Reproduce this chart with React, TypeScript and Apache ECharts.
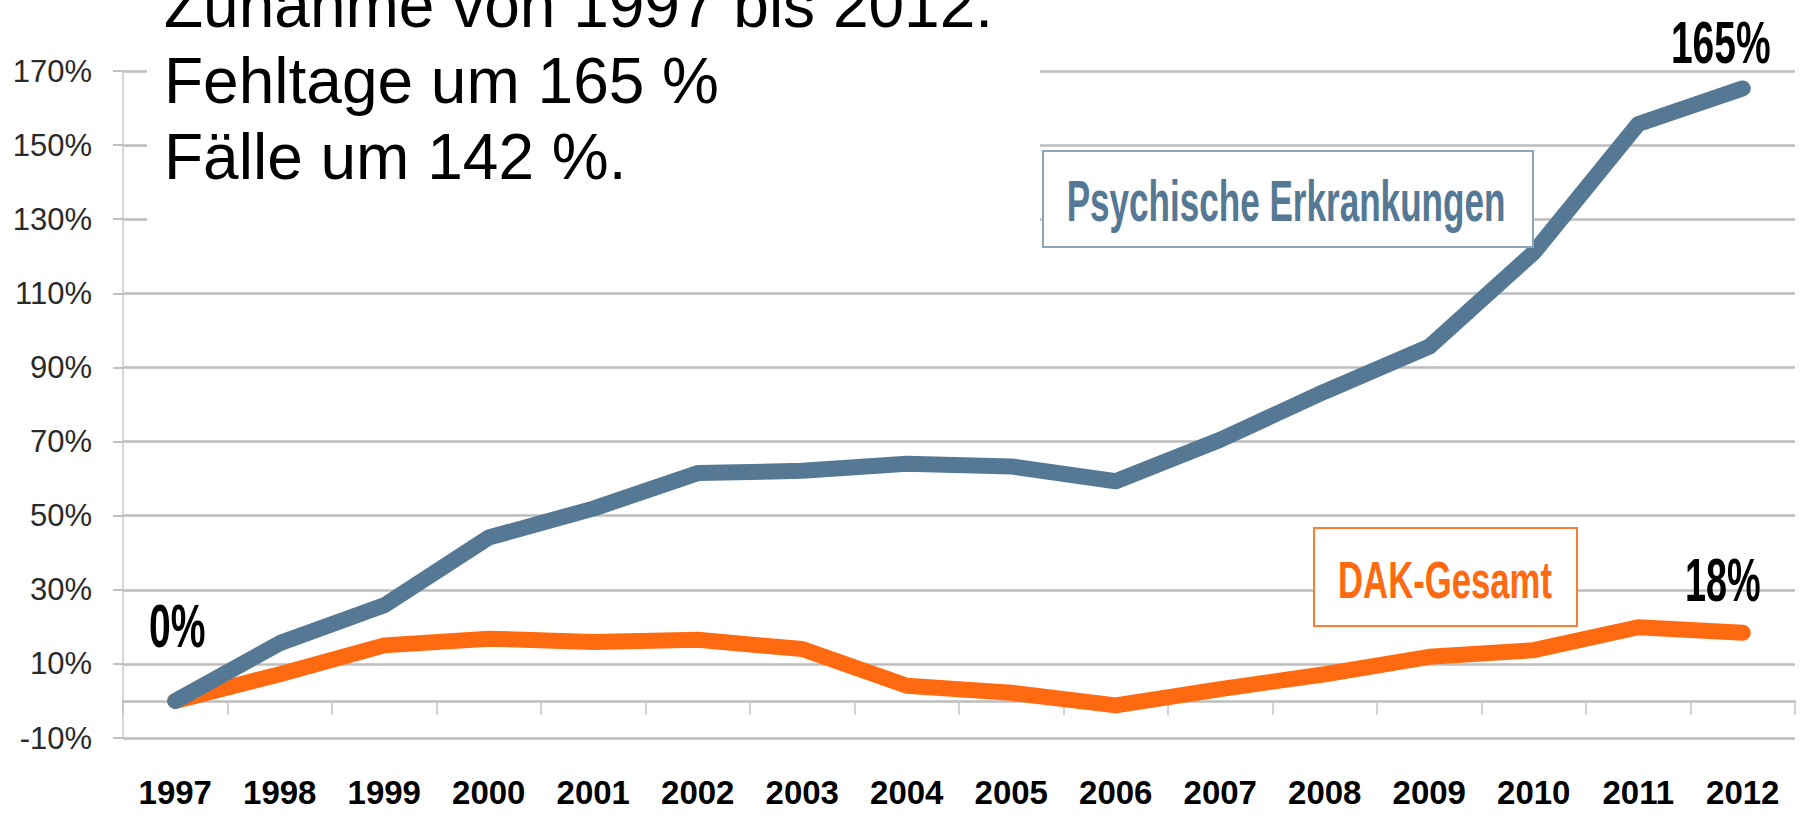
import React, { useEffect, useRef } from "react";
import * as echarts from "echarts";

const years = ["1997", "1998", "1999", "2000", "2001", "2002", "2003", "2004", "2005", "2006", "2007", "2008", "2009", "2010", "2011", "2012"];
const psychisch = [0, 15.6, 25.8, 44.1, 51.9, 61.5, 62.1, 64, 63.3, 59.3, 70.5, 83.5, 95.6, 121, 155.7, 165.3];
const dakGesamt = [0, 7.2, 15, 16.8, 15.9, 16.5, 14, 4.1, 2.2, -1.2, 3.2, 7.2, 11.9, 13.7, 19.9, 18.4];
const yMin = -10;
const yMax = 170;
const yInterval = 20;
const titleLines = ["Zunahme von 1997 bis 2012:", "Fehltage um 165 %", "Fälle um 142 %."];
const seriesNames = ["Psychische Erkrankungen", "DAK-Gesamt"];
const startLabel = "0%";
const endLabelPsych = "165%";
const endLabelDak = "18%";

const BLUE = "#557894";
const ORANGE = "#ff6a10";
const ARIAL = "'Liberation Sans', Arial, sans-serif";

export default function App() {
  const ref = useRef<HTMLDivElement>(null);
  useEffect(() => {
    document.body.style.margin = "0";
    const chart = echarts.init(ref.current!, null, { renderer: "svg" });
    const option: any = {
      animation: false,
      backgroundColor: "#ffffff",
      grid: { left: 123, right: 7, top: 71, bottom: 83, containLabel: false, outerBoundsMode: "none" },
      xAxis: {
        type: "category",
        data: years,
        boundaryGap: true,
        axisLine: { onZero: true, lineStyle: { color: "#bdbdbd", width: 2.5 } },
        axisTick: { show: true, length: 14, lineStyle: { color: "#c4c4c4", width: 1.5 } },
        axisLabel: {
          interval: 0,
          margin: 38,
          fontFamily: ARIAL,
          fontWeight: "bold",
          fontSize: 33,
          color: "#000",
        },
        splitLine: { show: false },
      },
      yAxis: {
        type: "value",
        min: yMin,
        max: yMax,
        interval: yInterval,
        axisLine: { show: true, lineStyle: { color: "#c8c8c8", width: 1.5 } },
        axisTick: { show: true, length: 10, lineStyle: { color: "#c0c0c0", width: 2 } },
        axisLabel: {
          formatter: "{value}%",
          margin: 31,
          fontFamily: ARIAL,
          fontSize: 31,
          color: "#2a2a2a",
        },
        splitLine: { show: true, lineStyle: { color: "#bdbdbd", width: 2.5 } },
      },
      series: [
        {
          name: seriesNames[1],
          type: "line",
          data: dakGesamt,
          showSymbol: false,
          z: 3,
          lineStyle: { color: ORANGE, width: 16, cap: "round", join: "round" },
        },
        {
          name: seriesNames[0],
          type: "line",
          data: psychisch,
          showSymbol: false,
          z: 4,
          lineStyle: { color: BLUE, width: 16, cap: "round", join: "round" },
        },
      ],
    };
    chart.setOption(option);

    const last = years.length - 1;
    const p0 = chart.convertToPixel({ gridIndex: 0 }, [0, psychisch[0]]) as number[];
    const pP = chart.convertToPixel({ gridIndex: 0 }, [last, psychisch[last]]) as number[];
    const pD = chart.convertToPixel({ gridIndex: 0 }, [last, dakGesamt[last]]) as number[];

    const boldText = (text: string, x: number, y: number, size: number, sx: number, color: string) => ({
      type: "text",
      x,
      y,
      scaleX: sx,
      z: 20,
      style: {
        text,
        fontFamily: ARIAL,
        fontWeight: "bold",
        fontSize: size,
        fill: color,
        textAlign: "center",
        textVerticalAlign: "middle",
      },
    });

    chart.setOption({
      graphic: [
        { type: "rect", z: 10, shape: { x: 147, y: 0, width: 893, height: 228 }, style: { fill: "#ffffff" } },
        ...titleLines.map((t, i) => ({
          type: "text",
          z: 11,
          x: 164,
          y: 4.5 + i * 76,
          style: { text: t, fontFamily: ARIAL, fontSize: 64, fill: "#000", textAlign: "left", textVerticalAlign: "middle" },
        })),
        { type: "rect", z: 12, shape: { x: 1043, y: 151, width: 490, height: 96 }, style: { fill: "#ffffff", stroke: "#8aa4b8", lineWidth: 2 } },
        boldText(seriesNames[0], 1286, 201, 58, 0.605, BLUE),
        { type: "rect", z: 12, shape: { x: 1314, y: 528, width: 263, height: 98 }, style: { fill: "#ffffff", stroke: "#ff7d30", lineWidth: 2 } },
        boldText(seriesNames[1], 1445, 580, 51, 0.68, ORANGE),
        boldText(startLabel, p0[0] + 2, p0[1] - 75, 61, 0.64, "#000"),
        boldText(endLabelPsych, pP[0] - 22, pP[1] - 46, 60, 0.65, "#000"),
        boldText(endLabelDak, pD[0] - 20, pD[1] - 53, 61, 0.62, "#000"),
      ],
    });

    return () => chart.dispose();
  }, []);
  return <div ref={ref} style={{ width: 1802, height: 821 }} />;
}
